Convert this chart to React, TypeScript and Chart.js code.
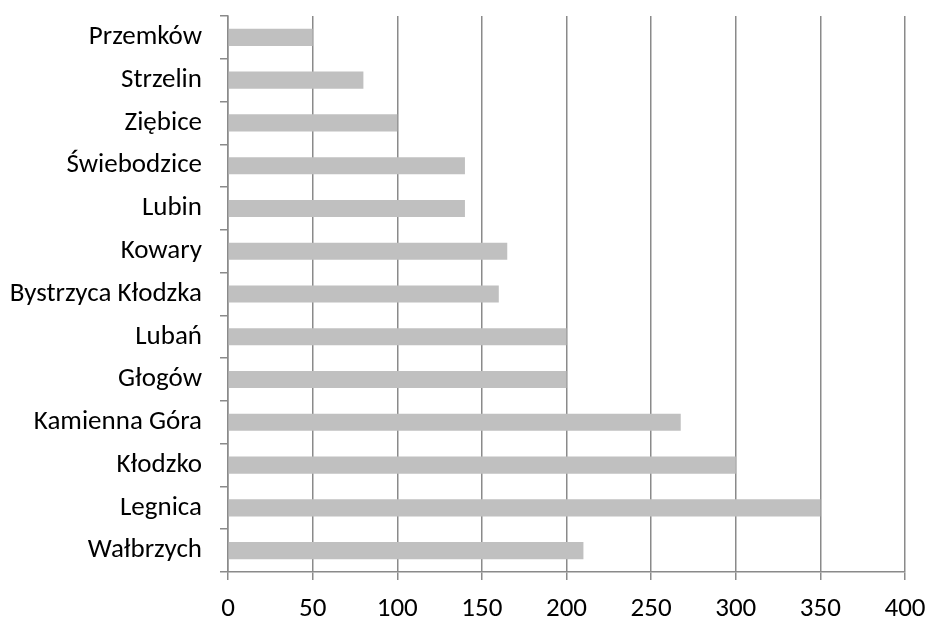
import React, { useEffect, useRef } from "react";
import { Chart, registerables } from "chart.js";

Chart.register(...registerables);

const categories = [
  "Przemków",
  "Strzelin",
  "Ziębice",
  "Świebodzice",
  "Lubin",
  "Kowary",
  "Bystrzyca Kłodzka",
  "Lubań",
  "Głogów",
  "Kamienna Góra",
  "Kłodzko",
  "Legnica",
  "Wałbrzych",
];
const values = [50, 80, 100, 140, 140, 165, 160, 200, 200, 267.5, 300, 350, 210];
const xMin = 0;
const xMax = 400;
const xStep = 50;

const FONT = "Carlito, Calibri, Lato, sans-serif";
const GRID = "#8a8a8a";

export default function App() {
  const ref = useRef<HTMLCanvasElement>(null);
  useEffect(() => {
    if (!ref.current) return;
    const chart = new Chart(ref.current, {
      type: "bar",
      data: {
        labels: categories,
        datasets: [
          {
            data: values,
            backgroundColor: "#c0c0c0",
            borderWidth: 0,
            barPercentage: 0.4,
            categoryPercentage: 1,
          },
        ],
      },
      options: {
        indexAxis: "y",
        responsive: false,
        animation: false,
        devicePixelRatio: 1,
        layout: { padding: { top: 16, right: 20, bottom: 0, left: 0 } },
        plugins: { legend: { display: false }, tooltip: { enabled: false } },
        scales: {
          x: {
            min: xMin,
            max: xMax,
            ticks: {
              stepSize: xStep,
              color: "#000",
              font: { family: FONT, size: 27 },
              padding: 13,
              maxRotation: 0,
            },
            grid: {
              color: GRID,
              lineWidth: 1.5,
              drawTicks: true,
              tickLength: 8,
            },
            border: { color: GRID, width: 1.5 },
            afterFit: (s: any) => {
              s.height = 45;
              s.paddingLeft = 0;
              s.paddingRight = 0;
            },
          },
          y: {
            ticks: {
              color: "#000",
              font: { family: FONT, size: 27 },
              padding: 18,
            },
            grid: {
              offset: true,
              drawOnChartArea: false,
              drawTicks: true,
              tickLength: 8,
              color: GRID,
              lineWidth: 1.5,
            },
            border: { color: GRID, width: 1.5 },
            afterFit: (s: any) => {
              s.width = 228;
              s.paddingTop = 0;
              s.paddingBottom = 0;
            },
          },
        },
      },
    });
    return () => chart.destroy();
  }, []);
  return (
    <div style={{ position: "fixed", top: 0, left: 0, width: 925, height: 617, background: "#fff" }}>
      <canvas ref={ref} width={925} height={617} />
    </div>
  );
}
